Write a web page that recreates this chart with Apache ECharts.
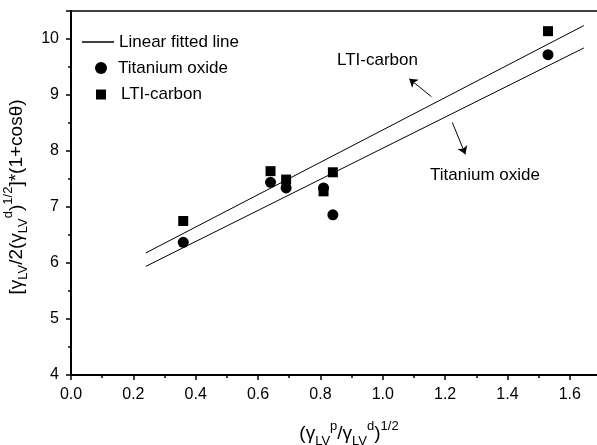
<!DOCTYPE html>
<html>
<head>
<meta charset="utf-8">
<script src="https://cdn.jsdelivr.net/npm/echarts@6/dist/echarts.min.js"></script>
<style>html,body{margin:0;padding:0;background:#fff}#c{width:597px;height:445px}</style>
</head>
<body>
<div id="c"></div>
<script>
// Measured data
const xValues = [0.36, 0.64, 0.69, 0.81, 0.84, 1.53];
const titaniumOxide = [6.37, 7.44, 7.34, 7.34, 6.86, 9.72];
const ltiCarbon = [6.75, 7.64, 7.49, 7.28, 7.62, 10.14];
const fitX = [0.24, 1.645];
const ltiFit = [6.18, 10.24];
const titaniumFit = [5.94, 9.84];
const ltiArrow = [[1.156, 8.97], [1.085, 9.29]];
const titaniumArrow = [[1.223, 8.51], [1.265, 7.94]];
const xTicks = ['0.0','0.2','0.4','0.6','0.8','1.0','1.2','1.4','1.6'];
const yTicks = ['4','5','6','7','8','9','10'];

const FONT = "'Liberation Sans', Arial, sans-serif";
const pair = (xs, ys) => xs.map((x, i) => [x, ys[i]]);

const chart = echarts.init(document.getElementById('c'), null, {renderer: 'canvas'});
const sub = {fontSize: 13, fontFamily: FONT, color: '#000', verticalAlign: 'bottom', lineHeight: 28};
const sup = {fontSize: 13, fontFamily: FONT, color: '#000', verticalAlign: 'top', lineHeight: 28};
const base = {fontSize: 19, fontFamily: FONT, color: '#000', lineHeight: 28};
const legendText = {fontSize: 17, fontFamily: FONT, color: '#000', lineHeight: 20};

chart.setOption({
  animation: false,
  backgroundColor: '#fff',
  grid: {left: 71, top: 11, width: 530, height: 364, show: true, borderColor: '#000', borderWidth: 1.5,
         containLabel: false, outerBoundsMode: 'none'},
  legend: [
    {orient: 'vertical', left: 82, top: 32, padding: 0, itemWidth: 32, itemHeight: 1.5, icon: 'rect',
     textStyle: legendText, data: ['Linear fitted line']},
    {orient: 'vertical', left: 95, top: 58, padding: 0, itemWidth: 12, itemHeight: 12, icon: 'circle',
     textStyle: Object.assign({padding: [0, 0, 0, 6]}, legendText), data: ['Titanium oxide']},
    {orient: 'vertical', left: 96, top: 84.5, padding: 0, itemWidth: 10, itemHeight: 10, icon: 'rect',
     textStyle: Object.assign({padding: [0, 0, 0, 10]}, legendText), data: ['LTI-carbon']}
  ],
  xAxis: {
    type: 'value', min: 0, max: 1.7, interval: 0.2,
    axisLine: {lineStyle: {color: '#000', width: 2}},
    axisTick: {length: 5, lineStyle: {color: '#000', width: 1.5}},
    minorTick: {show: true, splitNumber: 2, length: 3, lineStyle: {color: '#000', width: 1.5}},
    splitLine: {show: false},
    axisLabel: {fontSize: 16, fontFamily: FONT, color: '#000', margin: 12,
      formatter: (v) => { const i = Math.round(v / 0.2); return Math.abs(v - i * 0.2) < 1e-6 ? (xTicks[i] || '') : ''; }},
    name: '{n|(γ}{s|LV}{p|p}{n|/γ}{s|LV}{p|d}{n|)}{p|1/2}',
    nameLocation: 'middle', nameGap: 45,
    nameTextStyle: {rich: {n: base, s: sub, p: sup}, padding: [0, 0, 0, 26]}
  },
  yAxis: {
    type: 'value', min: 4, max: 10.5, interval: 1,
    axisLine: {lineStyle: {color: '#000', width: 2}},
    axisTick: {length: 5, lineStyle: {color: '#000', width: 1.5}},
    minorTick: {show: true, splitNumber: 2, length: 3, lineStyle: {color: '#000', width: 1.5}},
    splitLine: {show: false},
    axisLabel: {fontSize: 16, fontFamily: FONT, color: '#000', margin: 12, showMaxLabel: false,
      formatter: (v) => { const i = Math.round(v - 4); return Math.abs(v - 4 - i) < 1e-6 ? (yTicks[i] || '') : ''; }},
    name: '{n|[γ}{s|LV}{n|/2(γ}{s|LV}{p|d}{n|)}{p|1/2}{n|]*(1+cosθ)}',
    nameLocation: 'middle', nameRotate: 90, nameGap: 31,
    nameTextStyle: {rich: {n: base, s: sub, p: sup}, padding: [0, 8, 0, 0]}
  },
  graphic: [
    {type: 'text', left: 337, top: 52, style: {text: 'LTI-carbon', fontSize: 17, fontFamily: FONT, fill: '#000'}},
    {type: 'text', left: 430, top: 167, style: {text: 'Titanium oxide', fontSize: 17, fontFamily: FONT, fill: '#000'}}
  ],
  series: [
    {
      name: 'Linear fitted line', type: 'line', data: pair(fitX, ltiFit), symbol: 'none',
      lineStyle: {color: '#000', width: 1}, itemStyle: {color: '#000'}, z: 2,
      markLine: {
        silent: true, symbol: ['none', 'arrow'], symbolSize: 8,
        lineStyle: {color: '#000', width: 1, type: 'solid'}, itemStyle: {color: '#000'}, label: {show: false},
        data: [
          [{coord: ltiArrow[0]}, {coord: ltiArrow[1]}],
          [{coord: titaniumArrow[0]}, {coord: titaniumArrow[1]}]
        ]
      }
    },
    {
      name: 'Linear fitted line', type: 'line', data: pair(fitX, titaniumFit), symbol: 'none',
      lineStyle: {color: '#000', width: 1}, itemStyle: {color: '#000'}, z: 2
    },
    {
      name: 'Titanium oxide', type: 'scatter', data: pair(xValues, titaniumOxide),
      symbol: 'circle', symbolSize: 11, itemStyle: {color: '#000', opacity: 1}, z: 3
    },
    {
      name: 'LTI-carbon', type: 'scatter', data: pair(xValues, ltiCarbon),
      symbol: 'rect', symbolSize: 10, itemStyle: {color: '#000', opacity: 1}, z: 3
    }
  ]
});
</script>
</body>
</html>
